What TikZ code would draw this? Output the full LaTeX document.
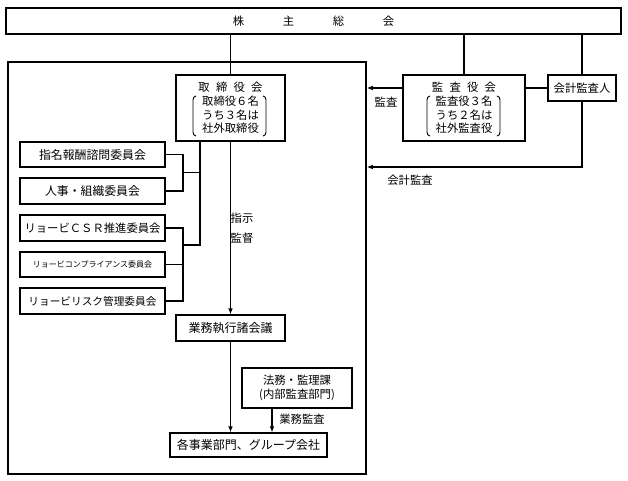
\documentclass[tikz,border=0pt]{standalone}
\usepackage{fontspec}
\setmainfont{Noto Sans CJK JP}
\usetikzlibrary{arrows.meta}
\begin{document}
\begin{tikzpicture}[x=0.75pt,y=-0.75pt,
  box/.style={draw,line width=0.9pt,inner sep=0pt,align=center,font=\fontsize{8.5}{10.3}\selectfont},
  ln/.style={line width=0.8pt},
  arr/.style={line width=0.8pt,-{Latex[length=4.5pt,width=3.5pt]}},
  lbl/.style={inner sep=0pt,font=\fontsize{8.5}{10}\selectfont},
  brk/.style={line width=0.7pt}]
\useasboundingbox (0,0) rectangle (628,481);
% frame and top box
\node[draw,line width=1.2pt,minimum width=268.5pt,minimum height=309pt,inner sep=0pt] (frame) at (187,268) {};
\node[box,line width=1.1pt,minimum width=461.25pt,minimum height=19.5pt] (top) at (313.5,21)
  {株\hspace{29pt}主\hspace{29pt}総\hspace{29pt}会};
% boards
\node[box,minimum width=81.75pt,minimum height=49.5pt] (tori) at (230.5,108)
  {取\hspace{4.7pt}締\hspace{4.7pt}役\hspace{4.7pt}会\\取締役６名\\うち３名は\\社外取締役};
\node[box,minimum width=91.5pt,minimum height=49.5pt] (kansa) at (464,108)
  {監\hspace{4.7pt}査\hspace{4.7pt}役\hspace{4.7pt}会\\監査役３名\\うち２名は\\社外監査役};
\node[box,minimum width=51pt,minimum height=19.5pt] (kaikei) at (582,88) {会計監査人};
% brackets
\draw[brk] (196,96) to[out=180,in=90] (193,100) -- (193,132) to[out=-90,in=180] (196,136);
\draw[brk] (263,96) to[out=0,in=90] (266,100) -- (266,132) to[out=-90,in=0] (263,136);
\draw[brk] (430,96) to[out=180,in=90] (427,100) -- (427,132) to[out=-90,in=180] (430,136);
\draw[brk] (497,96) to[out=0,in=90] (500,100) -- (500,132) to[out=-90,in=0] (497,136);
% committees
\node[box,font=\fontsize{8.9}{10}\selectfont,minimum width=108.75pt,minimum height=18.75pt] (c1) at (92.5,154.5) {指名報酬諮問委員会};
\node[box,font=\fontsize{8.9}{10}\selectfont,minimum width=108.75pt,minimum height=19.5pt] (c2) at (92.5,191) {人事・組織委員会};
\node[box,minimum width=108.75pt,minimum height=19.5pt] (c3) at (92.5,228) {リョービＣＳＲ推進委員会};
\node[box,font=\fontsize{6}{7}\selectfont,minimum width=108.75pt,minimum height=18.75pt] (c4) at (92.5,264.5) {リョービコンプライアンス委員会};
\node[box,font=\fontsize{8}{10}\selectfont,minimum width=108.75pt,minimum height=19.5pt] (c5) at (92.5,301) {リョービリスク管理委員会};
% execution
\node[box,font=\fontsize{9}{10}\selectfont,minimum width=81.75pt,minimum height=19.5pt] (gyomu) at (230.5,328) {業務執行諸会議};
\node[box,minimum width=82.5pt,minimum height=30pt] (homu) at (297,388) {法務・監理課\\(内部監査部門)};
\node[box,font=\fontsize{9}{10}\selectfont,minimum width=117.75pt,minimum height=18pt] (kaku) at (248.5,445) {各事業部門、グループ会社};
% labels
\node[lbl] (l1) at (386,102) {監査};
\node[lbl] (l2) at (410,180) {会計監査};
\node[lbl] (l3) at (242,218) {指示};
\node[lbl] (l4) at (242,238) {監督};
\node[lbl] (l5) at (302,419) {業務監査};
% connectors from top
\draw[ln] (tori.north) -- (tori.north |- top.south);
\draw[ln] (kansa.north) -- (kansa.north |- top.south);
\draw[ln] (kaikei.north) -- (kaikei.north |- top.south);
% audit
\draw[ln] (kaikei.west) -- (kaikei.west -| kansa.east);
\draw[arr] (kansa.west |- kaikei.west) -- (kaikei.west -| frame.east);
\coordinate (k2) at (582,167);
\draw[arr] (kaikei.south) -- (k2) -- (k2 -| frame.east);
% committee connections
\coordinate (jv) at (200,245);
\coordinate (jb) at (183,245);
\coordinate (ja) at (183,172.7);
\draw[ln] (tori.south -| jv) -- (jv) -- (jb);
\draw[ln] (ja) -- (ja -| jv);
\draw[ln] (c1.east) -| (ja) |- (c2.east);
\draw[ln] (c3.east) -| (jb) |- (c5.east);
\draw[ln] (c4.east) -- (c4.east -| jb);
% main arrows
\draw[arr] (tori.south) -- (gyomu.north);
\draw[arr] (gyomu.south) -- (kaku.north -| gyomu.south);
\coordinate (ha) at (272,0);
\draw[arr] (homu.south -| ha) -- (kaku.north -| ha);
\end{tikzpicture}
\end{document}
